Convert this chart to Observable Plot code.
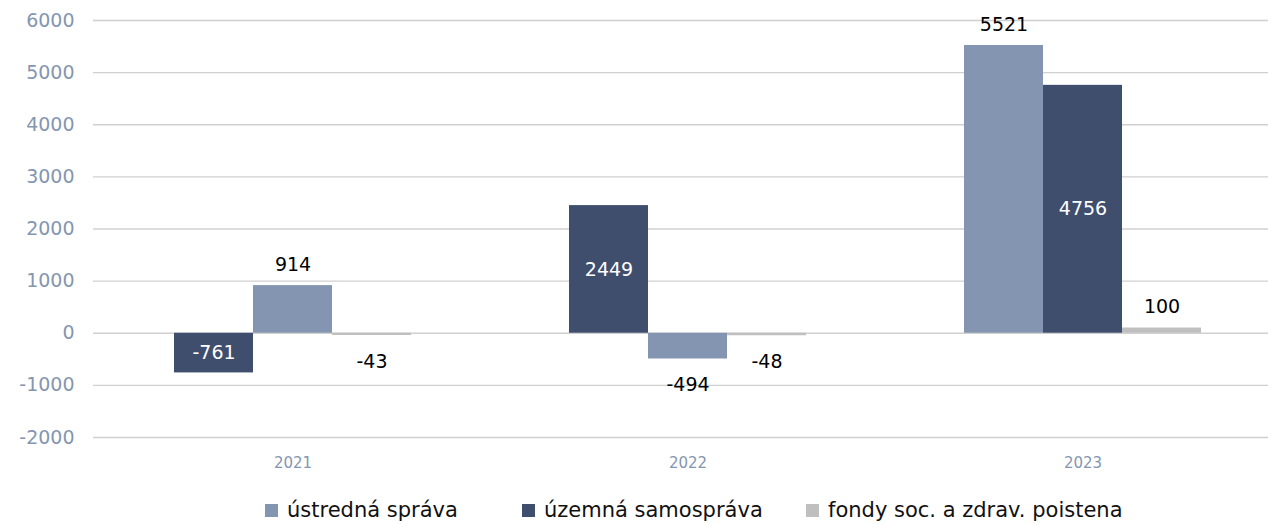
<!DOCTYPE html>
<html><head><meta charset="utf-8">
<script src="https://cdn.jsdelivr.net/npm/d3@7"></script>
<script src="https://cdn.jsdelivr.net/npm/@observablehq/plot@0.6"></script>
<style>
body{margin:0;background:#fff;font-family:"DejaVu Sans",sans-serif;}
#legend{position:relative;height:34px;width:1268px;}
.item{position:absolute;top:8px;display:flex;align-items:center;font-size:21px;color:#111;white-space:nowrap;line-height:24px}
.sw{width:13px;height:13px;margin-right:9px;display:inline-block}
</style></head><body>
<div id="chart"></div><div id="legend"></div>
<script>
const years = ["2021", "2022", "2023"];
const seriesNames = ["ústredná správa", "územná samospráva", "fondy soc. a zdrav. poistena"];
const ustrednaSprava = [914, -494, 5521];
const uzemnaSamosprava = [-761, 2449, 4756];
const fondy = [-43, -48, 100];
// series shown in each slot (left to right) per year
const order2021 = ["územná samospráva", "ústredná správa", "fondy soc. a zdrav. poistena"];
const order2022 = ["územná samospráva", "ústredná správa", "fondy soc. a zdrav. poistena"];
const order2023 = ["ústredná správa", "územná samospráva", "fondy soc. a zdrav. poistena"];
const colors = ["#8395b1", "#3f4e6c", "#bfbfbf"];
const yTicks = [-2000, -1000, 0, 1000, 2000, 3000, 4000, 5000, 6000];

const seriesValues = [ustrednaSprava, uzemnaSamosprava, fondy];
const orders = [order2021, order2022, order2023];
const rows = [];
years.forEach((yr, i) => {
  seriesNames.forEach((s, k) => {
    rows.push({year: yr, series: s, value: seriesValues[k][i], key: yr + "|" + orders[i].indexOf(s)});
  });
});
// band domain: one empty slot at each end, two empty slots between year groups
const xDomain = ["pad-a"];
years.forEach((yr, i) => {
  if (i > 0) xDomain.push("gap" + i + "a", "gap" + i + "b");
  xDomain.push(yr + "|0", yr + "|1", yr + "|2");
});
xDomain.push("pad-b");

const inside = rows.filter(d => d.series === "územná samospráva");
const outPos = rows.filter(d => d.series !== "územná samospráva" && d.value >= 0);
const outNeg = rows.filter(d => d.series !== "územná samospráva" && d.value < 0);

const chart = Plot.plot({
  width: 1268, height: 490,
  marginTop: 20, marginBottom: 53, marginLeft: 93, marginRight: 0,
  style: {fontFamily: "DejaVu Sans", fontSize: "19px", color: "#8496b0", background: "white"},
  x: {domain: xDomain, range: [93, 1281], padding: 0},
  y: {domain: [-2000, 6000], label: null},
  color: {domain: seriesNames, range: colors},
  marks: [
    Plot.ruleY(yTicks, {stroke: "#d0d0d0", strokeWidth: 1.3}),
    Plot.axisY({ticks: yTicks, tickFormat: d => String(d), tickSize: 0, tickPadding: 19, fontSize: 19, fill: "#8496b0", label: null}),
    Plot.axisX({ticks: years.map(y => y + "|1"), tickFormat: k => k.split("|")[0], tickSize: 0, tickPadding: 20, fontSize: 15, fill: "#8496b0", label: null}),
    Plot.barY(rows, {x: "key", y: "value", fill: "series"}),
    Plot.text(inside, {x: "key", y: d => d.value / 2, text: d => String(d.value), fill: "white", fontSize: 19}),
    Plot.text(outPos, {x: "key", y: "value", text: d => String(d.value), fill: "#000", fontSize: 19, dy: -21}),
    Plot.text(outNeg, {x: "key", y: "value", text: d => String(d.value), fill: "#000", fontSize: 19, dy: 26})
  ]
});
document.getElementById("chart").appendChild(chart);

const legendLeft = [265, 522, 806];
const lg = document.getElementById("legend");
seriesNames.forEach((s, k) => {
  const it = document.createElement("div");
  it.className = "item";
  it.style.left = legendLeft[k] + "px";
  it.innerHTML = `<span class="sw" style="background:${colors[k]}"></span><span>${s}</span>`;
  lg.appendChild(it);
});
</script>
</body></html>
